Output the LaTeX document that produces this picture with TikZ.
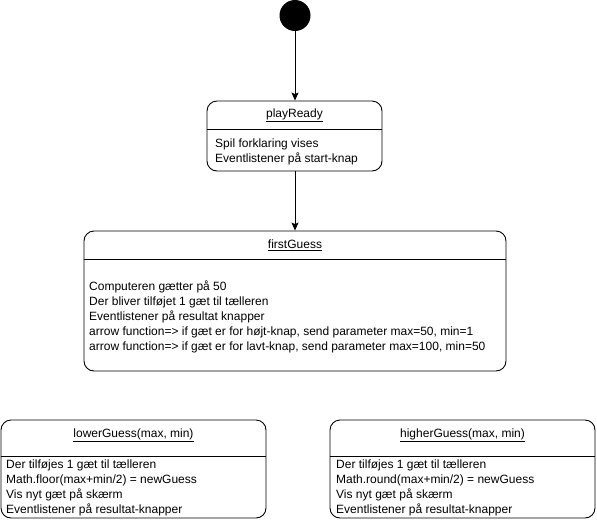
\documentclass[tikz,border=0pt]{standalone}
\usepackage{fontspec}
\setmainfont{Liberation Sans}
\usetikzlibrary{arrows.meta}
\begin{document}
\begin{tikzpicture}[x=1pt,y=-1pt,
  statebox/.style={draw=black, line width=0.9pt, rounded corners=10pt, inner sep=0pt},
  title/.style={inner sep=0pt, font=\fontsize{12}{14.5}\selectfont},
  body/.style={inner sep=0pt, anchor=west, align=left, font=\fontsize{12}{14.8}\selectfont},
  divider/.style={line width=0.9pt},
  flow/.style={line width=0.9pt, -{Stealth[length=8pt,width=7pt,inset=1.5pt]}}]
\useasboundingbox (0,0) rectangle (597,520);

% initial state
\node[circle, fill=black, minimum size=31pt, inner sep=0pt] (start) at (295,15.5) {};

% playReady
\node[statebox, minimum width=175pt, minimum height=70pt] (pr) at (294.5,136) {};
\node[title] (prt) at (294.5,115) {\underline{playReady}};
\draw[divider] (pr.west |- 0,129) coordinate (prdl) -- (pr.east |- 0,129) coordinate (prdr);
\node[body] (prb) at (215,151.5) {Spil forklaring vises\\Eventlistener på start-knap};

% firstGuess
\node[statebox, minimum width=422pt, minimum height=140pt] (fg) at (295,301) {};
\node[title] (fgt) at (295,245) {\underline{firstGuess}};
\draw[divider] (fg.west |- 0,259) coordinate (fgdl) -- (fg.east |- 0,259) coordinate (fgdr);
\node[body] (fgb) at (89,317) {Computeren gætter på 50\\Der bliver tilføjet 1 gæt til tælleren\\Eventlistener på resultat knapper\\arrow function=> if gæt er for højt-knap, send parameter max=50, min=1\\arrow function=> if gæt er for lavt-knap, send parameter max=100, min=50};

% lowerGuess
\node[statebox, minimum width=265pt, minimum height=98pt] (lg) at (133.5,469) {};
\node[title] (lgt) at (133.5,435) {\underline{lowerGuess(max, min)}};
\draw[divider] (lg.west |- 0,456) coordinate (lgdl) -- (lg.east |- 0,456) coordinate (lgdr);
\node[body] (lgb) at (6,488) {Der tilføjes 1 gæt til tælleren\\Math.floor(max+min/2) = newGuess\\Vis nyt gæt på skærm\\Eventlistener på resultat-knapper};

% higherGuess
\node[statebox, minimum width=265pt, minimum height=98pt] (hg) at (462.5,469) {};
\node[title] (hgt) at (462.5,435) {\underline{higherGuess(max, min)}};
\draw[divider] (hg.west |- 0,456) coordinate (hgdl) -- (hg.east |- 0,456) coordinate (hgdr);
\node[body] (hgb) at (336,488) {Der tilføjes 1 gæt til tælleren\\Math.round(max+min/2) = newGuess\\Vis nyt gæt på skærm\\Eventlistener på resultat-knapper};

% connectors
\draw[flow] (start.south) -- (pr.north -| start.south);
\draw[flow] (pr.south -| start.south) -- (fg.north -| start.south);
\end{tikzpicture}
\end{document}
